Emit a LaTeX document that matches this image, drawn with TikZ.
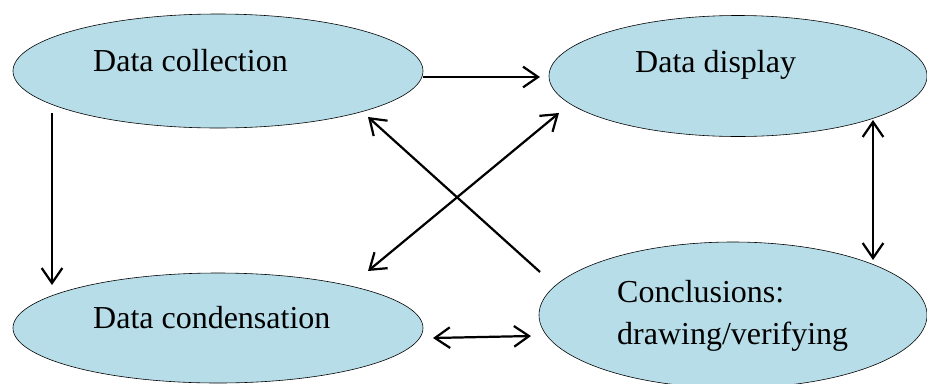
\documentclass[tikz,border=0pt]{standalone}
\usepackage{fontspec}
\setmainfont{Liberation Serif}
\usepackage{tikz}
\usetikzlibrary{positioning}
\usetikzlibrary{shapes.geometric,arrows.meta,calc}
\definecolor{bubble}{RGB}{183,221,232}
\tikzset{%
  stage/.style    = {draw, ellipse, fill=bubble, line width=0.5pt, inner sep=0pt}, % Stage
  caption/.style  = {anchor=base west, inner sep=0pt, align=left,
    font=\fontsize{27.3}{35.8}\selectfont}, % Text
  link/.style     = {line width=1.9pt}
}

\begin{document}
\begin{tikzpicture}[auto, x=0.03cm, y=-0.03cm, >={Straight Barb[length=0.45cm,width=0.62cm]}]
  \useasboundingbox (0,0) rectangle (927,383);

  \draw node at (218,71) [stage, minimum width=12.3cm, minimum height=3.42cm] (coll) {};
  \draw node at (738,76) [stage, minimum width=11.34cm, minimum height=3.63cm] (disp) {};
  \draw node at (218,328) [stage, minimum width=12.3cm, minimum height=3.3cm] (cond) {};
  \draw node at (733,315) [stage, minimum width=11.64cm, minimum height=4.38cm] (conc) {};

  \node at (93,71) [caption] (tcoll) {Data collection};
  \node at (635,72) [caption] (tdisp) {Data display};
  \node at (93,328) [caption] (tcond) {Data condensation};
  \node at (617,344) [caption] (tconc) {Conclusions:\\drawing/verifying};

  \draw[link, ->] ($(coll.center)+(205,6)$) -- ($(disp.center)+(-198,1)$);
  \draw[link, ->] ($(coll.center)+(-166,42)$) -- ($(cond.center)+(-166,-43)$);
  \draw[link, ->] ($(conc.center)+(-193,-43)$) -- ($(coll.center)+(150,46)$);
  \draw[link, <->] ($(cond.center)+(150,-57)$) -- ($(disp.center)+(-179,37)$);
  \draw[link, <->] ($(disp.center)+(135,44)$) -- ($(conc.center)+(140,-55)$);
  \draw[link, <->] ($(cond.center)+(215,10)$) -- ($(conc.center)+(-202,21)$);

\end{tikzpicture}
\end{document}
